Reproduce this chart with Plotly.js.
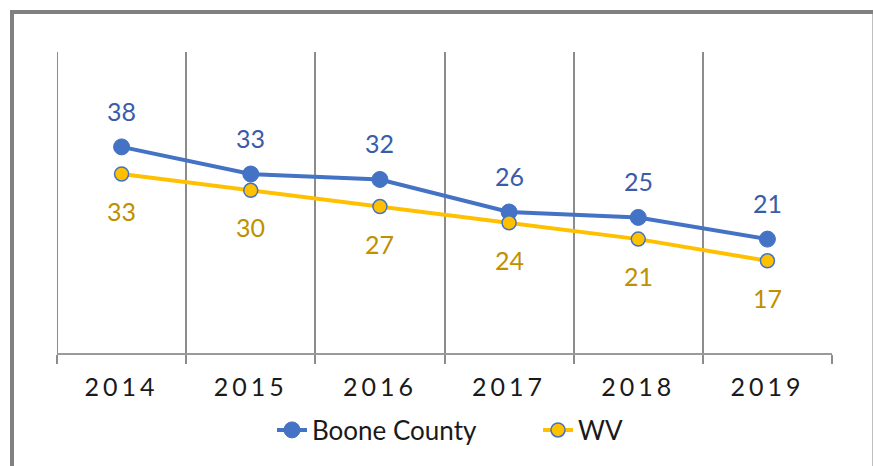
<!DOCTYPE html>
<html>
<head>
<meta charset="utf-8">
<script src="https://cdn.plot.ly/plotly-3.0.1.min.js"></script>
<style>
html,body{margin:0;padding:0;background:#fff;}
#chart{width:873px;height:466px;}
.xtick text{letter-spacing:4px;}
</style>
</head>
<body>
<div id="chart"></div>
<script>
var years = ["2014","2015","2016","2017","2018","2019"];
var booneCounty = [38,33,32,26,25,21];
var wv = [33,30,27,24,21,17];
var seriesNames = ["Boone County","WV"];

var FONT = "Lato, 'Noto Sans', sans-serif";
var L = 57, R = 832, T = 52, B = 353, W = 873, H = 466;
function px(x){return (x-L)/(R-L);}
function py(y){return (B-y)/(B-T);}

var traces = [
  {x: years, y: booneCounty, name: seriesNames[0], type:"scatter", mode:"lines+markers",
   line:{color:"#4472C4", width:4}, marker:{color:"#4472C4", size:16, line:{color:"#4472C4", width:1}}},
  {x: years, y: wv, name: seriesNames[1], type:"scatter", mode:"lines+markers",
   line:{color:"#FFC000", width:4}, marker:{color:"#FFC000", size:14, line:{color:"#4472C4", width:1.5}}}
];

var annotations = [];
for (var i = 0; i < years.length; i++) {
  annotations.push({x:i, y:booneCounty[i], xref:"x", yref:"y", text:String(booneCounty[i]), showarrow:false,
    yshift:36, font:{family:FONT, size:25, color:"#3B5CA8"}});
  annotations.push({x:i, y:wv[i], xref:"x", yref:"y", text:String(wv[i]), showarrow:false,
    yshift:-37, font:{family:FONT, size:25, color:"#BF9000"}});
}

var layout = {
  width: W, height: H,
  margin:{l:L, r:W-R, t:T, b:H-B, pad:0, autoexpand:false},
  paper_bgcolor:"#fff", plot_bgcolor:"#fff",
  showlegend:true,
  legend:{orientation:"h", x:px(272), xanchor:"left", y:py(430), yanchor:"middle",
    entrywidth:221, entrywidthmode:"pixels",
    font:{family:FONT, size:26, color:"#1a1a1a"}},
  xaxis:{type:"category", range:[-0.5,5.5], tickson:"boundaries", showgrid:true, gridcolor:"#8c8c8c", gridwidth:2,
    ticks:"outside", ticklen:9, tickwidth:2, tickcolor:"#8c8c8c", ticklabelstandoff:11,
    showline:true, linecolor:"#9a9a9a", linewidth:2, zeroline:false,
    tickfont:{family:FONT, size:25, color:"#1a1a1a"}, fixedrange:true},
  yaxis:{range:[0,55.5], showgrid:false, zeroline:false, showticklabels:false, ticks:"", showline:false, fixedrange:true},
  annotations: annotations,
  shapes:[
    {type:"line", xref:"x", yref:"paper", x0:-0.5, x1:-0.5, y0:0, y1:1, line:{color:"#8c8c8c", width:2}},
    {type:"rect", xref:"paper", yref:"paper", x0:px(12), x1:px(874.5), y0:py(475), y1:py(12),
     line:{color:"#808080", width:4}, fillcolor:"rgba(0,0,0,0)", layer:"below"}
  ]
};

Plotly.newPlot("chart", traces, layout, {staticPlot:true, displayModeBar:false});
</script>
</body>
</html>
